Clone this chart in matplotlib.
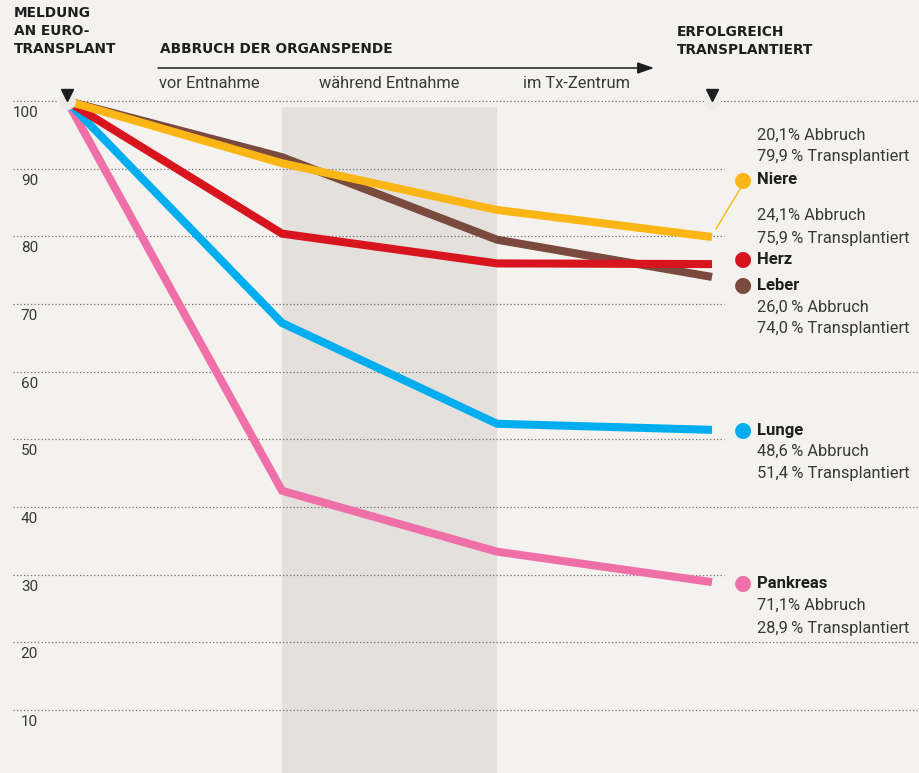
import numpy as np
import matplotlib.pyplot as plt
from matplotlib import transforms

# Verlauf der Organspenden: Meldung -> Abbruch -> erfolgreich transplantiert
stages = [0, 1, 2, 3]
stage_labels = ["vor Entnahme", "während Entnahme", "im Tx-Zentrum"]
y_ticks = [100, 90, 80, 70, 60, 50, 40, 30, 20, 10]

niere = [100, 90.8, 83.9, 79.9]
herz = [100, 80.4, 76.0, 75.9]
leber = [100, 91.7, 79.5, 74.0]
lunge = [100, 67.2, 52.3, 51.4]
pankreas = [100, 42.4, 33.4, 28.9]

organs = ["Niere", "Herz", "Leber", "Lunge", "Pankreas"]
series = [niere, herz, leber, lunge, pankreas]
colors = ["#FBB616", "#D8141F", "#7A4A3F", "#00AEEF", "#EF70A9"]
zorders = [8, 7, 6, 5, 4]

BG = "#F3F2EE"
DARK = "#1E1E1E"
GREY = "#383838"
W, H = 919, 773

plt.rcParams["font.family"] = ["Roboto", "DejaVu Sans"]

fig = plt.figure(figsize=(W / 100, H / 100), dpi=100, facecolor=BG)
ax = fig.add_axes([0, 0, 1, 1])
ax.set_facecolor(BG)
ax.axis("off")

# 100 -> 101 px, 10 -> 710 px ; stage 0 -> 67 px, stage 3 -> 712 px
ppu = (710 - 101) / 90
ppx = (712 - 67) / 3
ax.set_xlim(-67 / ppx, (W - 67) / ppx)
ax.set_ylim(100 - (H - 101) / ppu, 100 + 101 / ppu)


def fx(x):
    return x / W


def fy(y):
    return 1 - y / H


# grauer Bereich "während Entnahme"
ax.axvspan(stages[1], stages[2], ymin=0, ymax=(H - 107) / H, color="#E4E1DD", lw=0, zorder=0)

# gepunktete Rasterlinien, teils unterbrochen für die Beschriftungen rechts
full = {100, 60, 40, 20, 10}
x_left = -54 / ppx
for t in y_ticks:
    x_right = ax.get_xlim()[1] if t in full else stages[3] + 12 / ppx
    ax.plot([x_left, x_right], [t, t], color="#6E6E6E", lw=0.9,
            linestyle=(0, (1, 1.8)), zorder=1)
    ax.annotate(str(t), xy=(x_left, t), xytext=(25 / 100 * 72, -12 / 100 * 72),
                textcoords="offset points", ha="right", va="center",
                fontsize=11, color=GREY)

# Linien
for vals, c, z in zip(series, colors, zorders):
    ax.plot(stages, vals, color=c, lw=5.8, solid_capstyle="butt",
            solid_joinstyle="miter", zorder=z)

# Start- und Zielmarkierung
ax.scatter([stages[0]], [100], s=150, color="#EBEAE6", lw=0, zorder=9)
ax.scatter([stages[3]], [100], s=150, color="#EEEDEA", lw=0, zorder=2)
tri = transforms.offset_copy(ax.transData, fig=fig, x=0, y=6 / 100, units="inches")
ax.plot([stages[0], stages[3]], [100, 100], linestyle="none", marker="v",
        markersize=9, color=DARK, transform=tri, zorder=10)

# Überschriften
bold = dict(family=["DejaVu Sans"], fontweight="bold", fontsize=9.9, color=DARK, va="center")
for i, line in enumerate(["MELDUNG", "AN EURO-", "TRANSPLANT"]):
    fig.text(fx(14), fy(13 + 18 * i), line, **bold)
for i, line in enumerate(["ERFOLGREICH", "TRANSPLANTIERT"]):
    fig.text(fx(677), fy(32 + 18 * i), line, **bold)
fig.text(fx(160), fy(49), "ABBRUCH DER ORGANSPENDE", **bold)

ax.annotate("", xy=(fx(654), fy(68)), xytext=(fx(158), fy(68)),
            xycoords="figure fraction", textcoords="figure fraction",
            arrowprops=dict(arrowstyle="-|>,head_length=1.0,head_width=0.35",
                            color=DARK, lw=1.1, shrinkA=0, shrinkB=0))

for lbl, xpos in zip(stage_labels, [159, 319, 523]):
    fig.text(fx(xpos), fy(83), lbl, fontsize=11.8, color=GREY, va="center")

# Beschriftung rechts
name_y = {"Niere": 180, "Herz": 259, "Leber": 285, "Lunge": 430, "Pankreas": 583}
stats_y = {"Niere": (135, 157), "Herz": (215, 238), "Leber": (307, 329),
           "Lunge": (451, 474), "Pankreas": (605, 628)}


def pct(v):
    s = f"{v:.1f}".replace(".", ",")
    # schmales Leerzeichen vor %, außer nach der schmalen 1
    return s + ("" if s.endswith("1") else "\u2009") + "%"


for name, vals, c in zip(organs, series, colors):
    y = name_y[name]
    fig.text(fx(743), fy(y), "\u25CF", color=c, fontsize=15, ha="center",
             va="center", family=["DejaVu Sans"])
    fig.text(fx(757), fy(y), name, fontsize=12, fontweight="bold",
             color=DARK, va="center")
    end = vals[-1]
    y1, y2 = stats_y[name]
    fig.text(fx(757), fy(y1), f"{pct(100 - end)} Abbruch", fontsize=11.8,
             color=GREY, va="center")
    fig.text(fx(757), fy(y2), f"{pct(end)} Transplantiert", fontsize=11.8,
             color=GREY, va="center")

# Verbindungslinie Niere
ax.annotate("", xy=(fx(740), fy(189)), xytext=(fx(716), fy(229)),
            xycoords="figure fraction", textcoords="figure fraction",
            arrowprops=dict(arrowstyle="-", color=colors[0], lw=1.0,
                            shrinkA=0, shrinkB=0))

plt.savefig("out.png", dpi=100, facecolor=BG)
